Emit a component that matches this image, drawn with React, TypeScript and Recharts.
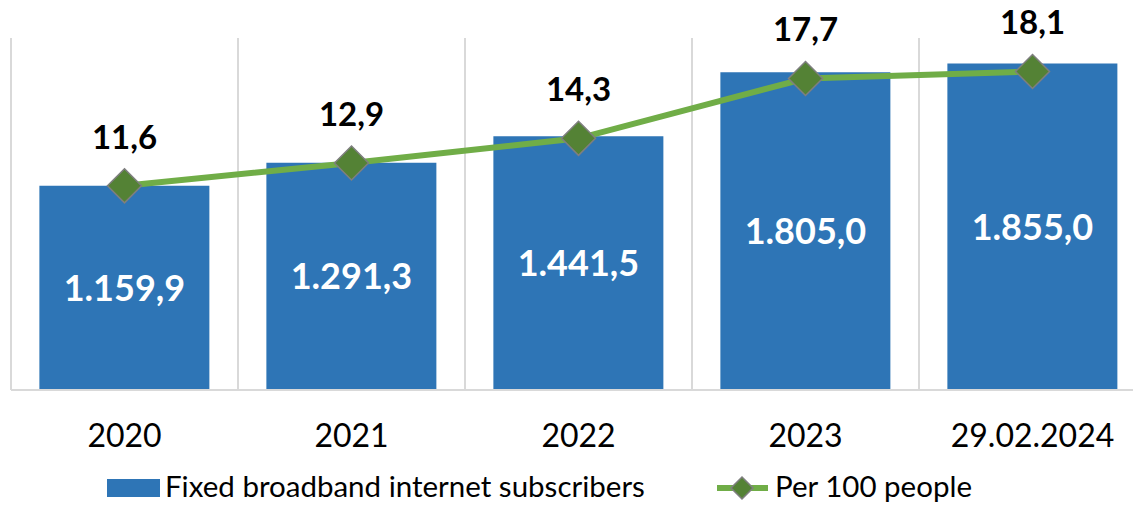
import {
  ComposedChart,
  Bar,
  Line,
  XAxis,
  YAxis,
  CartesianGrid,
  LabelList,
} from 'recharts';

const categories = ['2020', '2021', '2022', '2023', '29.02.2024'];
const subscribers = [1159.9, 1291.3, 1441.5, 1805.0, 1855.0];
const per100 = [11.6, 12.9, 14.3, 17.7, 18.1];

const data = categories.map((name, i) => ({
  name,
  subscribers: subscribers[i],
  per100: per100[i],
}));

const BLUE = '#2E75B6';
const GREEN = '#70AD47';
const DARK_GREEN = '#548235';
const GRID = '#D9D9D9';
const FONT = 'Lato, "Noto Sans", sans-serif';

// 1.159,9 style numbers
const fmt = (v: number) => {
  const [int, dec] = v.toFixed(1).split('.');
  const withDots = int.replace(/\B(?=(\d{3})+(?!\d))/g, '.');
  return `${withDots},${dec}`;
};

const Diamond = (props: any) => {
  const { cx, cy, size = 17 } = props;
  if (cx == null || cy == null) return null;
  const r = size;
  return (
    <polygon
      points={`${cx},${cy - r} ${cx + r},${cy} ${cx},${cy + r} ${cx - r},${cy}`}
      fill={DARK_GREEN}
      stroke='#7F7F7F'
      strokeWidth={1.5}
    />
  );
};

const XTick = (props: any) => {
  const { x, y, payload } = props;
  return (
    <text
      x={x}
      y={y + 57}
      textAnchor='middle'
      fontFamily={FONT}
      fontSize={32}
      fill='#000'
    >
      {payload.value}
    </text>
  );
};

const LineLabel = (props: any) => {
  const { x, y, value } = props;
  return (
    <text
      x={x}
      y={y - 37}
      textAnchor='middle'
      fontFamily={FONT}
      fontSize={33}
      fontWeight={700}
      fill='#000'
    >
      {fmt(value)}
    </text>
  );
};

const LegendBox = () => (
  <svg
    width={1133}
    height={40}
    style={{ position: 'absolute', left: 0, top: 468 }}
  >
    <rect x={107} y={11} width={53} height={18} fill={BLUE} />
    <text x={165} y={29} fontFamily={FONT} fontSize={29.5} fill='#000'>
      Fixed broadband internet subscribers
    </text>
    <line x1={717} y1={20} x2={768} y2={20} stroke={GREEN} strokeWidth={6} />
    <Diamond cx={742} cy={20} size={11} />
    <text x={775} y={29} fontFamily={FONT} fontSize={29.5} fill='#000'>
      Per 100 people
    </text>
  </svg>
);

export default function App() {
  return (
    <div
      style={{
        position: 'fixed',
        left: 0,
        top: 0,
        width: 1133,
        height: 505,
        overflow: 'hidden',
        background: '#fff',
      }}
    >
      <ComposedChart
        width={1150}
        height={505}
        data={data}
        margin={{ top: 38, right: 4, left: 11, bottom: 0 }}
        barCategoryGap='12.5%'
      >
        <CartesianGrid
          horizontal={false}
          stroke={GRID}
          strokeWidth={2}
          verticalCoordinatesGenerator={({ offset }: any) =>
            [0, 1, 2, 3, 4, 5].map(
              (i) => offset.left + (i * offset.width) / categories.length
            )
          }
        />
        <XAxis
          dataKey='name'
          height={115}
          tickLine={false}
          tickSize={0}
          tickMargin={0}
          axisLine={{ stroke: GRID, strokeWidth: 2 }}
          tick={<XTick />}
          interval={0}
        />
        <YAxis yAxisId='left' hide domain={[0, 2000]} />
        <YAxis yAxisId='right' hide orientation='right' domain={[0, 20]} />
        <Bar
          yAxisId='left'
          dataKey='subscribers'
          fill={BLUE}
          isAnimationActive={false}
        >
          <LabelList
            dataKey='subscribers'
            position='center'
            formatter={(v: any) => fmt(Number(v))}
            fill='#fff'
            fontFamily={FONT}
            fontSize={36}
            fontWeight={700}
          />
        </Bar>
        <Line
          yAxisId='right'
          dataKey='per100'
          stroke={GREEN}
          strokeWidth={6}
          dot={<Diamond size={17} />}
          activeDot={false}
          isAnimationActive={false}
        >
          <LabelList dataKey='per100' content={<LineLabel />} />
        </Line>
      </ComposedChart>
      <LegendBox />
    </div>
  );
}
